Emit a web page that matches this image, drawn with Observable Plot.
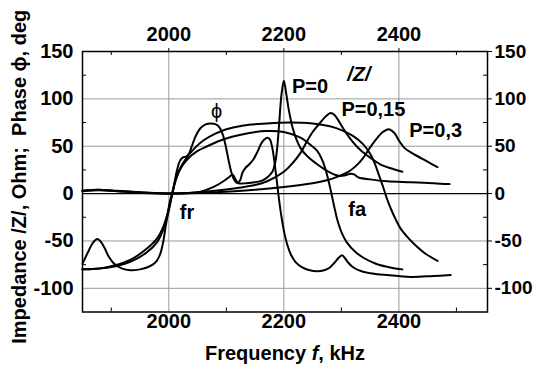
<!DOCTYPE html>
<html><head><meta charset="utf-8">
<script src="https://cdn.jsdelivr.net/npm/d3@7"></script>
<script src="https://cdn.jsdelivr.net/npm/@observablehq/plot@0.6"></script>
<style>body{margin:0;background:#fff} svg{display:block}</style>
</head><body><div id="chart"></div>
<script>
// Phase curves (deg) for P = 0, 0.15, 0.3 : [frequency kHz, value]
const phaseP0 = [[1850,-74],[1861,-60],[1868,-52],[1876,-48],[1882,-51],[1888,-57],[1896,-67],[1905,-74],[1918,-79],[1933,-81],[1950,-80],[1962,-78],[1972,-75],[1979,-71],[1985,-64],[1990,-52],[1994,-37],[1998,-22],[2002,-8],[2006,0],[2010,12],[2014,24],[2019,34],[2024,38],[2030,39],[2035,42],[2040,50],[2047,61],[2055,69],[2064,73],[2073,74],[2082,73],[2088,70],[2094,62],[2099,50],[2104,35],[2109,22],[2114,14],[2119,11],[2124,14],[2128,22],[2133,27],[2140,31],[2147,36],[2154,44],[2160,52],[2166,57],[2171,59],[2176,57],[2180,48],[2184,32],[2188,12],[2192,-8],[2196,-25],[2201,-42],[2206,-54],[2212,-64],[2220,-72],[2232,-78],[2245,-81],[2258,-82],[2270,-81],[2280,-78],[2288,-73],[2295,-68],[2301,-65],[2306,-68],[2312,-73],[2321,-78],[2335,-82],[2350,-84],[2380,-86],[2420,-88],[2460,-87],[2490,-86]];
const phaseP15 = [[1850,-80],[1880,-79],[1905,-77],[1933,-72],[1962,-62],[1980,-51],[1991,-37],[2000,-18],[2006,0],[2012,14],[2020,26],[2032,36],[2050,45],[2067,50],[2085,55],[2110,60],[2140,64],[2170,66],[2200,65],[2229,59],[2245,52],[2258,45],[2267,35],[2275,20],[2282,2],[2288,-15],[2294,-30],[2301,-42],[2310,-52],[2325,-62],[2339,-68],[2360,-74],[2385,-78],[2406,-80]];
const phaseP30 = [[1850,-80],[1880,-79],[1905,-76],[1933,-70],[1962,-58],[1980,-47],[1991,-34],[2000,-16],[2006,0],[2012,15],[2020,27],[2030,37],[2045,48],[2060,56],[2080,63],[2100,68],[2130,72],[2170,74],[2210,75],[2250,74],[2280,71],[2300,67],[2320,61],[2338,52],[2350,42],[2358,32],[2365,20],[2372,8],[2379,-5],[2386,-16],[2395,-28],[2403,-37],[2415,-46],[2426,-53],[2445,-63],[2467,-71]];
// Impedance |Z| curves (Ohm) for P = 0, 0.15, 0.3
const zP0 = [[1850,3],[1865,3.5],[1878,4],[1900,3],[1930,2],[1960,1],[1990,0.3],[2005,0],[2030,0.5],[2055,2],[2078,7],[2095,13],[2104,17],[2111,20],[2116,15],[2121,11],[2135,11],[2150,12],[2163,14],[2173,18],[2180,23],[2183,28],[2186,36],[2189,52],[2192,75],[2196,105],[2200,119],[2204,106],[2209,87],[2215,70],[2222,57],[2229,48],[2240,40],[2258,31],[2275,24],[2293,19],[2305,19],[2316,21],[2323,20],[2330,17],[2350,15],[2380,13],[2420,12],[2460,11],[2488,10]];
const zP15 = [[1850,3],[1878,4],[1910,3],[1950,1.5],[1985,0.3],[2005,0],[2040,1],[2080,3],[2120,6],[2150,9],[2171,13],[2200,23],[2215,32],[2229,43],[2240,55],[2250,65],[2262,74],[2272,81],[2281,85],[2288,83],[2295,77],[2305,67],[2318,56],[2333,46],[2350,38],[2370,30],[2390,26],[2406,23]];
const zP30 = [[1850,2.5],[1878,3.5],[1910,2.5],[1950,1],[1985,0.2],[2005,0],[2050,0.7],[2100,2],[2150,4],[2200,7],[2250,11],[2275,14],[2298,19],[2312,23],[2325,29],[2337,37],[2348,47],[2360,57],[2372,65],[2382,68],[2392,64],[2400,56],[2410,48],[2425,42],[2440,37],[2455,32],[2467,28]];

const xMajor = [2000, 2200, 2400];
const xMinor = [1900, 2100, 2300, 2500];
const yMajor = [-100, -50, 0, 50, 100, 150];
const yMinor = [-75, -25, 25, 75, 125];
const yGrid = [-100, -50, 50, 100];
const xTitle = "Frequency f, kHz";
const yTitle = "Impedance /Z/, Ohm;\u00A0 Phase \u03D5, deg";
const labels = [
  {text: "P=0", f: 2214, v: 113},
  {text: "P=0,15", f: 2300, v: 89},
  {text: "P=0,3", f: 2418, v: 66},
  {text: "fr", f: 2019, v: -20},
  {text: "fa", f: 2312, v: -17}
];
const labelsItalic = [{text: "/Z/", f: 2310, v: 126}];
const labelsPhi = [{text: "\u03D5", f: 2083, v: 87}];

const series = {phaseP0, phaseP15, phaseP30, zP0, zP15, zP30};
const rows = Object.entries(series).flatMap(([s, pts]) => pts.map(([f, v]) => ({s, f, v})));

const W = 534, H = 365, mL = 82, mR = 47, mT = 51, mB = 53.5;
const plotW = W - mL - mR, plotH = H - mT - mB;
const font = "'Liberation Sans', Arial, sans-serif";
const fmt = d => d < 0 ? "-" + (-d) : String(d);
const axisStyle = {fontSize: 19, fontWeight: "bold", label: null, tickFormat: fmt, stroke: "black"};

const chart = Plot.plot({
  width: W, height: H,
  marginLeft: mL, marginRight: mR, marginTop: mT, marginBottom: mB,
  style: {fontFamily: font, background: "white", color: "black"},
  x: {domain: [1850, 2554]},
  y: {domain: [-125, 150]},
  marks: [
    Plot.gridX(xMajor, {stroke: "#999", strokeOpacity: 1, strokeWidth: 1}),
    Plot.gridY(yGrid, {stroke: "#999", strokeOpacity: 1, strokeWidth: 1}),
    Plot.ruleY([0], {stroke: "black", strokeWidth: 1.2}),
    Plot.tickX(xMinor, {x: d => d, insetTop: plotH - 4, stroke: "black"}),
    Plot.tickX(xMinor, {x: d => d, insetBottom: plotH - 4, stroke: "black"}),
    Plot.tickY(yMinor, {y: d => d, insetLeft: plotW - 4, stroke: "black"}),
    Plot.tickY(yMinor, {y: d => d, insetRight: plotW - 4, stroke: "black"}),
    Plot.line(rows, {x: "f", y: "v", z: "s", stroke: "black", strokeWidth: 2, curve: "catmull-rom"}),
    Plot.axisX(xMajor, {anchor: "top", tickSize: 4, tickPadding: 7, ...axisStyle, fontSize: 20}),
    Plot.axisX(xMajor, {anchor: "bottom", tickSize: 0, tickPadding: 2, ...axisStyle, fontSize: 20}),
    Plot.axisY(yMajor, {anchor: "left", tickSize: 0, tickPadding: 9, ...axisStyle, fontSize: 20}),
    Plot.axisY(yMajor, {anchor: "right", tickSize: 4, tickPadding: 3, ...axisStyle}),
    Plot.frame({stroke: "black", strokeWidth: 1.5}),
    Plot.text(labels, {x: "f", y: "v", text: "text", textAnchor: "start", fontSize: 20, fontWeight: "bold", fill: "black"}),
    Plot.text(labelsItalic, {x: "f", y: "v", text: "text", textAnchor: "start", fontSize: 20, fontWeight: "bold", fontStyle: "italic", fill: "black"}),
    Plot.text(labelsPhi, {x: "f", y: "v", text: "text", fontSize: 20, fill: "black"}),
    Plot.text([xTitle], {frameAnchor: "bottom", lineAnchor: "top", dy: 34, fontSize: 20, fontWeight: "bold", fill: "black"}),
    Plot.text([yTitle], {frameAnchor: "left", textAnchor: "middle", lineAnchor: "middle", rotate: -90, dx: -63, dy: -5, fontSize: 20, fontWeight: "bold", fill: "black"})
  ]
});

// italic "f" in the x title
chart.querySelectorAll("text").forEach(t => {
  if (t.textContent === xTitle) {
    t.textContent = "";
    const ns = "http://www.w3.org/2000/svg";
    [["Frequency ", null], ["f", "italic"], [", kHz", null]].forEach(([s, st]) => {
      const ts = document.createElementNS(ns, "tspan");
      ts.textContent = s;
      if (st) ts.setAttribute("font-style", st);
      t.appendChild(ts);
    });
  }
});
document.getElementById("chart").appendChild(chart);
</script>
</body></html>
